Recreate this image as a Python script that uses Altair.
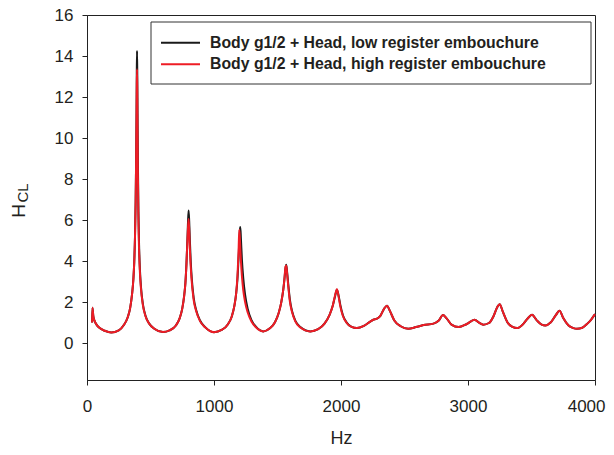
import altair as alt
import pandas as pd

# ---- data ----
freq = [40, 43, 50, 60, 75, 100, 140, 191, 250, 290, 320, 340, 355, 365, 372, 378, 383, 387, 390, 392,
        394, 396, 398, 401, 405, 410, 417, 425, 440, 460, 490, 530, 598,
        650, 700, 730, 750, 765, 775, 783, 790, 795, 800, 805, 810, 817, 825, 840, 860, 890, 930, 1000,
        1060, 1110, 1140, 1160, 1175, 1185, 1193, 1199, 1203, 1207, 1212, 1220, 1230, 1245, 1265, 1295, 1330, 1388,
        1440, 1480, 1510, 1530, 1545, 1555, 1563, 1569, 1576, 1585, 1597, 1615, 1640, 1680, 1758,
        1820, 1870, 1910, 1935, 1952, 1968, 1980, 1995, 2015, 2045, 2080, 2126, 2180, 2230, 2255, 2280,
        2310, 2340, 2362, 2385, 2420, 2470, 2530, 2590, 2650, 2728, 2770, 2803, 2830, 2870, 2926, 2990,
        3052, 3090, 3120, 3165, 3200, 3230, 3249, 3275, 3310, 3350, 3386, 3430, 3470, 3504, 3540, 3580,
        3609, 3650, 3690, 3721, 3750, 3790, 3830, 3858, 3900, 3940, 3970, 4000]

h_low = [1.0, 1.72, 1.3, 1.08, 0.9, 0.73, 0.6, 0.52, 0.62, 0.88, 1.25, 1.72, 2.4, 3.1, 3.95, 5.2, 6.9, 9.0, 11.4, 13.2,
         14.25, 13.1, 11.2, 8.7, 6.4, 4.8, 3.55, 2.75, 1.9, 1.35, 0.95, 0.7, 0.54,
         0.62, 0.86, 1.22, 1.68, 2.3, 2.95, 3.85, 4.95, 5.85, 6.47, 5.9, 5.0, 3.95, 3.15, 2.2, 1.6, 1.1, 0.78, 0.53,
         0.64, 0.92, 1.3, 1.8, 2.45, 3.15, 4.1, 4.95, 5.45, 5.66, 5.1, 4.05, 3.2, 2.35, 1.68, 1.12, 0.8, 0.57,
         0.72, 1.02, 1.48, 2.0, 2.58, 3.15, 3.65, 3.82, 3.45, 2.85, 2.15, 1.55, 1.1, 0.78, 0.57,
         0.68, 0.95, 1.38, 1.82, 2.25, 2.6, 2.35, 1.85, 1.36, 1.0, 0.8, 0.73, 0.84, 1.05, 1.14, 1.18,
         1.33, 1.68, 1.82, 1.57, 1.1, 0.82, 0.7, 0.78, 0.88, 0.95, 1.1, 1.37, 1.22, 0.9, 0.78, 0.93,
         1.14, 0.98, 0.9, 0.98, 1.3, 1.75, 1.9, 1.52, 1.02, 0.79, 0.73, 0.9, 1.2, 1.38, 1.12, 0.9,
         0.86, 1.0, 1.35, 1.58, 1.22, 0.87, 0.73, 0.7, 0.75, 0.95, 1.15, 1.41]

h_high = [1.0, 1.72, 1.3, 1.08, 0.9, 0.73, 0.6, 0.52, 0.62, 0.88, 1.25, 1.72, 2.4, 3.1, 3.95, 5.2, 6.9, 9.0, 11.0, 12.6,
          13.35, 12.3, 10.4, 8.1, 6.0, 4.55, 3.4, 2.65, 1.85, 1.32, 0.94, 0.7, 0.54,
          0.62, 0.86, 1.22, 1.68, 2.3, 2.95, 3.85, 4.9, 5.6, 6.05, 5.5, 4.6, 3.7, 2.98, 2.1, 1.55, 1.07, 0.77, 0.53,
          0.64, 0.92, 1.3, 1.8, 2.45, 3.3, 4.4, 5.53, 5.2, 4.65, 4.0, 3.25, 2.6, 2.0, 1.5, 1.05, 0.77, 0.57,
          0.72, 1.02, 1.48, 2.0, 2.58, 3.15, 3.72, 3.78, 3.35, 2.75, 2.05, 1.5, 1.06, 0.76, 0.57,
          0.68, 0.95, 1.38, 1.82, 2.3, 2.63, 2.3, 1.78, 1.32, 0.98, 0.8, 0.73, 0.84, 1.05, 1.14, 1.18,
          1.33, 1.68, 1.82, 1.57, 1.1, 0.82, 0.7, 0.78, 0.88, 0.95, 1.1, 1.37, 1.22, 0.9, 0.78, 0.93,
          1.14, 0.98, 0.9, 0.98, 1.3, 1.75, 1.9, 1.52, 1.02, 0.79, 0.73, 0.9, 1.2, 1.38, 1.12, 0.9,
          0.86, 1.0, 1.35, 1.58, 1.22, 0.87, 0.73, 0.7, 0.75, 0.95, 1.15, 1.41]

series_names = ["Body g1/2 + Head, low register embouchure",
                "Body g1/2 + Head, high register embouchure"]
series_colors = ["#1a1a1a", "#ee1c25"]
x_ticks = [0, 1000, 2000, 3000, 4000]
y_ticks = [0, 2, 4, 6, 8, 10, 12, 14, 16]

FONT = "Liberation Sans"
TXT = "#231f20"

df_low = pd.DataFrame({"Hz": freq, "H": h_low})
df_high = pd.DataFrame({"Hz": freq, "H": h_high})

xs = alt.Scale(domain=[0, 4000], nice=False)
ys = alt.Scale(domain=[-1.8, 16], nice=False)

last_x = "datum.value == %d" % x_ticks[-1]
xax = alt.Axis(values=x_ticks, format="d", title="Hz", grid=False, tickSize=5, labelPadding=13,
               titlePadding=15, labelFontSize=17, titleFontSize=18, titleFontWeight="normal",
               labelFont=FONT, titleFont=FONT, labelColor=TXT, titleColor=TXT,
               domainColor="#222", tickColor="#222", labelFlush=False,
               labelAlign={"condition": {"test": last_x, "value": "right"}, "value": "center"},
               labelOffset={"condition": {"test": last_x, "value": 10}, "value": 0})
yax = alt.Axis(values=y_ticks, format="d", title=None, grid=False, tickSize=5, labelPadding=9,
               labelFontSize=17, labelFont=FONT, labelColor=TXT,
               domainColor="#222", tickColor="#222")


def line(df, color):
    return alt.Chart(df).mark_line(color=color, strokeWidth=2, interpolate="monotone").encode(
        x=alt.X("Hz:Q", scale=xs, axis=xax),
        y=alt.Y("H:Q", scale=ys, axis=yax),
    )


one = pd.DataFrame({"a": [0]})

# manual legend
legend_box = alt.Chart(one).mark_rect(fill="white", stroke="#333", strokeWidth=1).encode(
    x=alt.value(64), x2=alt.value(504), y=alt.value(7), y2=alt.value(69))
leg_layers = [legend_box]
for i, (name, col) in enumerate(zip(series_names, series_colors)):
    yy = 27.7 + i * 21.6
    leg_layers.append(alt.Chart(one).mark_rule(color=col, strokeWidth=2).encode(
        x=alt.value(74), x2=alt.value(113), y=alt.value(yy)))
    leg_layers.append(alt.Chart(pd.DataFrame({"t": [name]})).mark_text(
        align="left", baseline="middle", font=FONT, fontSize=15.8, fontWeight="bold", color=TXT).encode(
        x=alt.value(123), y=alt.value(yy), text="t:N"))

# y title H with subscript CL
ytitle_h = alt.Chart(pd.DataFrame({"t": ["H"]})).mark_text(
    angle=270, align="center", baseline="middle", font=FONT, fontSize=19, color=TXT).encode(
    x=alt.value(-68), y=alt.value(196), text="t:N")
ytitle_cl = alt.Chart(pd.DataFrame({"t": ["CL"]})).mark_text(
    angle=270, align="center", baseline="middle", font=FONT, fontSize=15, color=TXT).encode(
    x=alt.value(-64), y=alt.value(178), text="t:N")

chart = alt.layer(
    line(df_low, series_colors[0]),
    line(df_high, series_colors[1]),
    *leg_layers,
    ytitle_h, ytitle_cl,
).properties(
    width=508, height=365,
    padding={"left": 79, "top": 7, "right": 11, "bottom": 67},
    autosize=alt.AutoSizeParams(type="none"),
    background="white",
).configure_view(stroke="#222", strokeWidth=1)

chart.save("out.html", embed_options={"renderer": "svg", "actions": False})
